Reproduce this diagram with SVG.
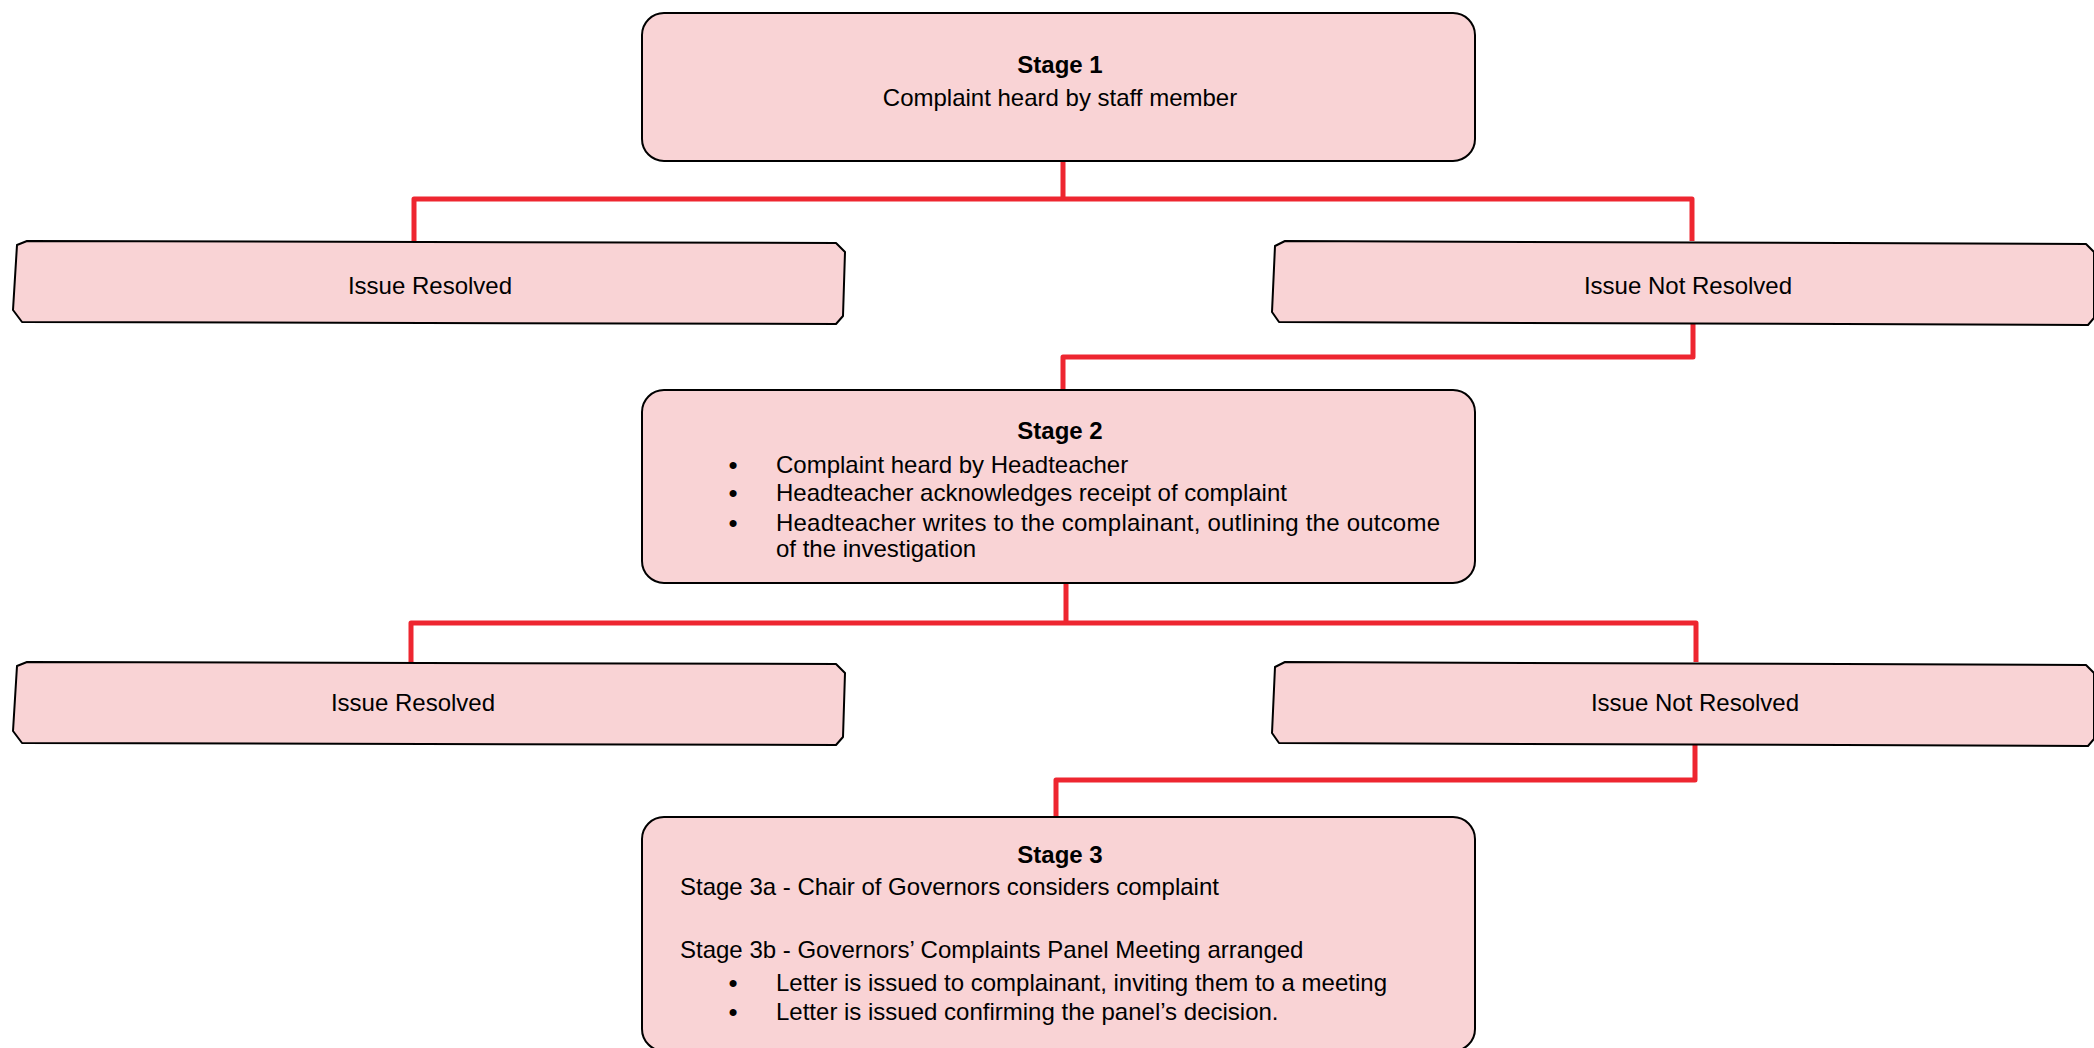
<svg xmlns="http://www.w3.org/2000/svg" width="2094" height="1048" viewBox="0 0 2094 1048">
<style>
.box{fill:#F9D3D5;stroke:#000;stroke-width:2;stroke-linejoin:round}
.conn{fill:none;stroke:#EE2630;stroke-width:5;stroke-linejoin:round}
text{font-family:"Liberation Sans",Arial,sans-serif;font-size:24px;fill:#000}
.b{font-weight:bold}
.c{text-anchor:middle}
.bul{font-size:26px;text-anchor:middle}
</style>
<rect width="2094" height="1048" fill="#fff"/>
<g id="connectors">
<path class="conn" d="M1063,161 V199 M414,241 V199 H1692 V241"/>
<path class="conn" d="M1693,323 V357 H1063 V390"/>
<path class="conn" d="M1066,583 V623 M411,662 V623 H1696 V662"/>
<path class="conn" d="M1695,744 V780 H1056 V817"/>
</g>
<g id="stage1">
<rect class="box" x="642" y="13" width="833" height="148" rx="22" ry="22"/>
<text class="b c" x="1060" y="73">Stage 1</text>
<text class="c" x="1060" y="106">Complaint heard by staff member</text>
</g>
<g id="resolved1">
<polygon class="box" points="27,241 836,243 845,252 843,316 836,324 22,322 13,310 17,245"/>
<text class="c" x="430" y="294">Issue Resolved</text>
</g>
<g id="notresolved1">
<polygon class="box" points="1285,241 2086,244 2094,252 2094,318 2088,325 1279,322 1272,312 1275,246"/>
<text class="c" x="1688" y="294">Issue Not Resolved</text>
</g>
<g id="stage2">
<rect class="box" x="642" y="390" width="833" height="193" rx="22" ry="22"/>
<text class="b c" x="1060" y="439">Stage 2</text>
<text x="733" y="474" class="bul">•</text>
<text x="776" y="473">Complaint heard by Headteacher</text>
<text x="733" y="502" class="bul">•</text>
<text x="776" y="501">Headteacher acknowledges receipt of complaint</text>
<text x="733" y="532" class="bul">•</text>
<text x="776" y="531" textLength="664" lengthAdjust="spacing">Headteacher writes to the complainant, outlining the outcome</text>
<text x="776" y="557">of the investigation</text>
</g>
<g id="resolved2">
<polygon class="box" points="27,662 836,664 845,673 843,737 836,745 22,743 13,731 17,666"/>
<text class="c" x="413" y="711">Issue Resolved</text>
</g>
<g id="notresolved2">
<polygon class="box" points="1285,662 2086,665 2094,673 2094,739 2088,746 1279,743 1272,733 1275,667"/>
<text class="c" x="1695" y="711">Issue Not Resolved</text>
</g>
<g id="stage3">
<rect class="box" x="642" y="817" width="833" height="234" rx="22" ry="22"/>
<text class="b c" x="1060" y="863">Stage 3</text>
<text x="680" y="895">Stage 3a - Chair of Governors considers complaint</text>
<text x="680" y="958">Stage 3b - Governors’ Complaints Panel Meeting arranged</text>
<text x="733" y="992" class="bul">•</text>
<text x="776" y="991">Letter is issued to complainant, inviting them to a meeting</text>
<text x="733" y="1021" class="bul">•</text>
<text x="776" y="1020">Letter is issued confirming the panel’s decision.</text>
</g>
</svg>
